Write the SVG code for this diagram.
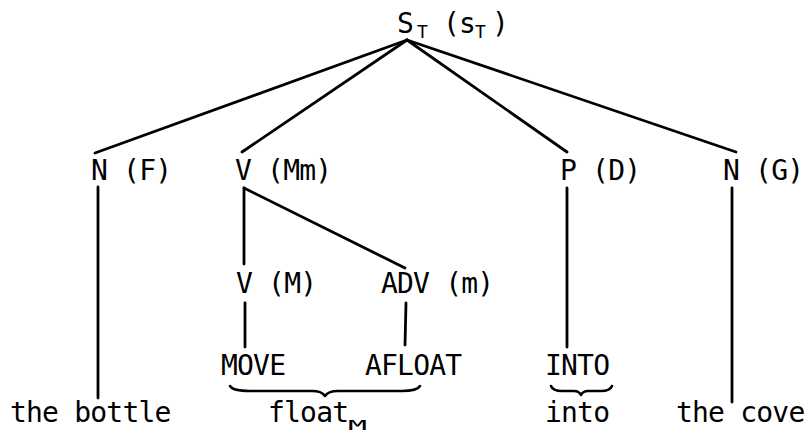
<svg xmlns="http://www.w3.org/2000/svg" width="812" height="436" viewBox="0 0 812 436">
<style>
text{font-family:"DejaVu Sans Mono","Liberation Mono",monospace;font-size:28px;letter-spacing:-0.8px;fill:#000}
.sub{font-size:18px;letter-spacing:0}
.ln{stroke:#000;stroke-width:2.8;fill:none;stroke-linecap:round}
.br{stroke:#000;stroke-width:2.6;fill:none;stroke-linecap:round;stroke-linejoin:round}
</style>
<rect width="812" height="436" fill="#fff"/>
<g id="connectors">
<line class="ln" x1="407" y1="40" x2="95" y2="153"/>
<line class="ln" x1="407" y1="40" x2="242" y2="152"/>
<line class="ln" x1="407" y1="40" x2="567" y2="152"/>
<line class="ln" x1="407" y1="40" x2="736" y2="152"/>
<line class="ln" x1="98" y1="187" x2="98" y2="398"/>
<line class="ln" x1="244" y1="188" x2="244" y2="264"/>
<line class="ln" x1="244" y1="188" x2="405" y2="268"/>
<line class="ln" x1="245" y1="303" x2="245" y2="347"/>
<line class="ln" x1="406" y1="303" x2="405" y2="345"/>
<line class="ln" x1="567" y1="188" x2="567" y2="347"/>
<line class="ln" x1="732" y1="188" x2="732" y2="402"/>
</g>
<g id="root">
<text x="397" y="33">S</text>
<text class="sub" x="417" y="38">T</text>
<text x="443" y="33">(s</text>
<text class="sub" x="475" y="38">T</text>
<text x="492" y="33">)</text>
</g>
<g id="n-f"><text x="91" y="180">N (F)</text></g>
<g id="v-mm"><text x="235" y="180">V (Mm)</text></g>
<g id="p-d"><text x="560" y="180">P (D)</text></g>
<g id="n-g"><text x="723" y="180">N (G)</text></g>
<g id="v-m"><text x="236" y="293">V (M)</text></g>
<g id="adv-m"><text x="381" y="293">ADV (m)</text></g>
<g id="move"><text x="221" y="375">MOVE</text></g>
<g id="afloat"><text x="365" y="375">AFLOAT</text></g>
<g id="into-cap"><text x="545" y="375">INTO</text></g>
<g id="the-bottle"><text x="10" y="422">the bottle</text></g>
<g id="float-m">
<path class="br" d="M230,386 Q233,391 250,391 L312,391 Q322,391 325,396 Q328,391 338,391 L402,391 Q417,391 420,386"/>
<text x="268" y="422">float</text>
<text x="348" y="430" style="font-size:14px;letter-spacing:0" textLength="19" lengthAdjust="spacingAndGlyphs">M</text>
</g>
<g id="into">
<path class="br" d="M551,386 Q553,391 562,391 L574,391 Q579,391 581,395 Q583,391 588,391 L601,391 Q610,391 612,386"/>
<text x="545" y="422">into</text>
</g>
<g id="the-cove"><text x="676" y="422">the cove</text></g>
</svg>
